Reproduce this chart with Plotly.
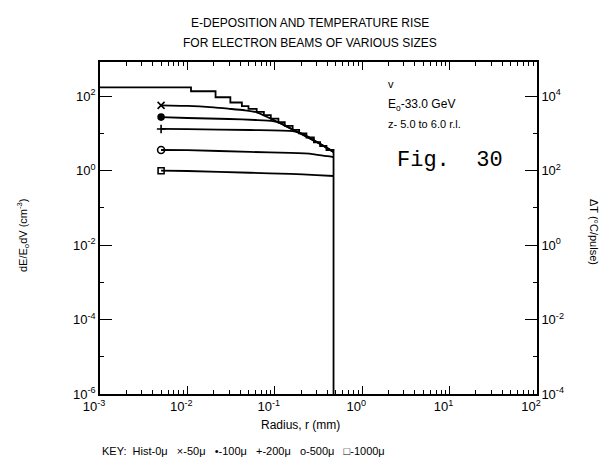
import plotly.graph_objects as go

# ---- data ----
hist_r = [0.001, 0.011, 0.021, 0.031, 0.042, 0.05, 0.062, 0.075, 0.09,
          0.11, 0.13, 0.16, 0.19, 0.23, 0.28, 0.33, 0.39, 0.47, 0.47]
hist_v = [174, 136, 94, 68, 54, 46, 38, 31, 25,
          20, 16, 12.5, 10, 7.8, 5.8, 4.6, 3.6, 3.2, 1e-9]

r50 = [0.005, 0.01, 0.02, 0.03, 0.045, 0.062, 0.115, 0.19, 0.33, 0.47]
v50 = [57, 55, 50, 46, 42, 37, 19, 10.3, 5.2, 3.2]

r100 = [0.005, 0.01, 0.03, 0.06, 0.095, 0.115, 0.19, 0.33, 0.47]
v100 = [27.5, 26, 24.5, 23, 21.5, 19, 10.3, 5.2, 3.2]

r200 = [0.005, 0.01, 0.052, 0.16, 0.21, 0.33, 0.47]
v200 = [13.2, 13.0, 12.4, 11.6, 9.7, 5.2, 3.2]

r500 = [0.005, 0.01, 0.052, 0.15, 0.27, 0.40, 0.47]
v500 = [3.6, 3.55, 3.2, 3.0, 2.8, 2.45, 2.3]

r1000 = [0.005, 0.01, 0.052, 0.15, 0.3, 0.47]
v1000 = [1.0, 0.98, 0.88, 0.82, 0.76, 0.72]

left_ticks = [1e-6, 1e-4, 1e-2, 1e0, 1e2]
left_labels = ["10<sup>-6</sup>", "10<sup>-4</sup>", "10<sup>-2</sup>", "10<sup>0</sup>", "10<sup>2</sup>"]
right_ticks = [1e-4, 1e-2, 1e0, 1e2, 1e4]
right_labels = ["10<sup>-4</sup>", "10<sup>-2</sup>", "10<sup>0</sup>", "10<sup>2</sup>", "10<sup>4</sup>"]
x_ticks = [1e-3, 1e-2, 1e-1, 1e0, 1e1, 1e2]
x_labels = ["10<sup>-3</sup>", "10<sup>-2</sup>", "10<sup>-1</sup>", "10<sup>0</sup>", "10<sup>1</sup>", "10<sup>2</sup>"]

FONT = "Liberation Sans"
fig = go.Figure()

fig.add_trace(go.Scatter(x=hist_r, y=hist_v, mode="lines", line=dict(color="black", width=1.8, shape="hv"),
                         showlegend=False, hoverinfo="skip"))

series = [
    (r50, v50, "x-thin", 7),
    (r100, v100, "circle", 6),
    (r200, v200, "cross-thin", 6),
    (r500, v500, "circle-open", 7),
    (r1000, v1000, "square-open", 6),
]
for rr, vv, sym, sz in series:
    fig.add_trace(go.Scatter(x=rr, y=vv, mode="lines",
                             line=dict(color="black", width=1.8, shape="spline", smoothing=0.6),
                             showlegend=False, hoverinfo="skip"))
    fig.add_trace(go.Scatter(x=rr[:1], y=vv[:1], mode="markers",
                             marker=dict(symbol=sym, size=sz, color="black",
                                         line=dict(color="black", width=1.6)),
                             showlegend=False, hoverinfo="skip"))

# invisible trace for right axis
fig.add_trace(go.Scatter(x=[1e-3], y=[1e0], yaxis="y2", mode="markers", marker=dict(opacity=0),
                         showlegend=False, hoverinfo="skip"))

minor_x = [m * 10 ** e for e in range(-3, 2) for m in range(2, 10)]

L, R, T, B = 100, 76, 62, 68
W, H = 613, 462

fig.update_layout(
    width=W, height=H,
    margin=dict(l=L, r=R, t=T, b=B),
    paper_bgcolor="white", plot_bgcolor="white",
    font=dict(family=FONT, color="black", size=12),
    xaxis=dict(type="log", range=[-3, 2], showgrid=False, showline=True, linecolor="black", linewidth=1.6,
               mirror="ticks", ticks="inside", ticklen=8, tickwidth=1.3, tickcolor="black",
               tickmode="array", tickvals=x_ticks, ticktext=x_labels, tickfont=dict(size=13),
               ticklabelshift=-6,
               minor=dict(tickmode="array", tickvals=minor_x, ticks="inside", ticklen=4,
                          tickcolor="black", tickwidth=1),
               zeroline=False),
    yaxis=dict(type="log", range=[-6, 2.92], showgrid=False, showline=True, linecolor="black", linewidth=1.6,
               ticks="inside", ticklen=12, tickwidth=1.3, tickcolor="black",
               tickmode="array", tickvals=left_ticks, ticktext=left_labels, tickfont=dict(size=13),
               minor=dict(tickmode="array", tickvals=[1e-5, 1e-3, 1e-1, 1e1], ticks="inside", ticklen=4,
                          tickcolor="black", tickwidth=1),
               zeroline=False),
    yaxis2=dict(type="log", range=[-4, 4.92], overlaying="y", side="right", showgrid=False, showline=True,
                linecolor="black", linewidth=1.6, ticks="inside", ticklen=12, tickwidth=1.3, tickcolor="black",
                tickmode="array", tickvals=right_ticks, ticktext=right_labels, tickfont=dict(size=13),
                minor=dict(tickmode="array", tickvals=[1e-3, 1e-1, 1e1, 1e3], ticks="inside", ticklen=4,
                           tickcolor="black", tickwidth=1),
                zeroline=False),
)


def px_ann(xp, yp, text, size, family=FONT, xanchor="left", angle=0):
    fig.add_annotation(xref="paper", yref="paper",
                       x=(xp - L) / (W - L - R), y=1 - (yp - T) / (H - T - B),
                       text=text, showarrow=False, xanchor=xanchor, yanchor="middle",
                       font=dict(size=size, family=family, color="black"), textangle=angle)


px_ann(310, 23, "E-DEPOSITION AND TEMPERATURE RISE", 12, xanchor="center")
px_ann(310, 43, "FOR ELECTRON BEAMS OF VARIOUS SIZES", 12, xanchor="center")
px_ann(386, 84, "v", 11)
px_ann(386, 105, "E<sub>o</sub>-33.0 GeV", 12)
px_ann(386, 124, "z- 5.0 to 6.0 r.l.", 11)
px_ann(395, 161, "Fig.  30", 22, family="Liberation Mono")
px_ann(594, 232, "ΔT (°C/pulse)", 11, xanchor="center", angle=90)
px_ann(23, 235, "dE/E<sub>o</sub>dV (cm<sup>-3</sup>)", 11, xanchor="center", angle=-90)
px_ann(300, 425, "Radius, r (mm)", 12, xanchor="center")
px_ann(100, 451, "KEY:  Hist-0\u03bc   ×-50\u03bc   •-100\u03bc   +-200\u03bc   o-500\u03bc   □-1000\u03bc", 11)

fig.write_html("out.html")
